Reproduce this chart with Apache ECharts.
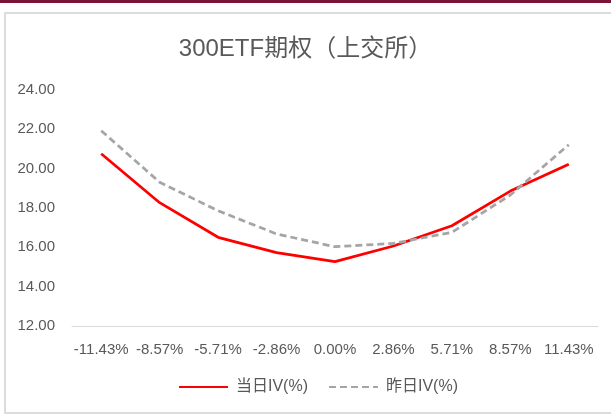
<!DOCTYPE html>
<html>
<head>
<meta charset="utf-8">
<script src="https://cdn.jsdelivr.net/npm/echarts@6/dist/echarts.min.js"></script>
<style>
html,body{margin:0;padding:0;background:#fff;}
#topbar{position:absolute;left:0;top:0;width:611px;height:3px;background:#7a1538;}
#box{position:absolute;left:4px;top:12px;width:615px;height:402px;border:2px solid #dcdcdc;box-sizing:border-box;}
#chart{position:absolute;left:0;top:0;width:611px;height:419px;}
</style>
</head>
<body>
<div id="topbar"></div>
<div id="box"></div>
<div id="chart"></div>
<script>
const categories = ['-11.43%','-8.57%','-5.71%','-2.86%','0.00%','2.86%','5.71%','8.57%','11.43%'];
const todayIV = [20.76, 18.27, 16.51, 15.73, 15.27, 16.07, 17.10, 18.86, 20.22];
const yesterdayIV = [21.93, 19.31, 17.86, 16.68, 16.03, 16.20, 16.76, 18.66, 21.22];
const seriesNames = ['当日IV(%)', '昨日IV(%)'];
const titleText = '300ETF期权（上交所）';

const chart = echarts.init(document.getElementById('chart'), null, {renderer:'canvas'});
const fontFam = '"Liberation Sans","Noto Sans CJK SC",sans-serif';
chart.setOption({
  animation: false,
  backgroundColor: 'transparent',
  title: {
    text: titleText,
    left: 'center',
    top: 32,
    textStyle: {fontSize: 24, fontWeight: 'normal', color: '#595959', fontFamily: fontFam}
  },
  grid: {left: 72, right: 13, top: 90, bottom: 93},
  legend: {
    bottom: 19,
    left: 173,
    itemWidth: 49,
    itemHeight: 14,
    itemGap: 20,
    itemStyle: {opacity: 0},
    textStyle: {fontSize: 16, color: '#595959', fontFamily: fontFam, padding: [0, 0, 0, 3]},
    data: seriesNames
  },
  xAxis: {
    type: 'category',
    data: categories,
    boundaryGap: true,
    axisLine: {show: true, lineStyle: {color: '#d9d9d9', width: 1}},
    axisTick: {show: false},
    axisLabel: {color: '#595959', fontSize: 15, margin: 16, fontFamily: fontFam, interval: 0}
  },
  yAxis: {
    type: 'value',
    min: 12, max: 24, interval: 2,
    axisLine: {show: false},
    axisTick: {show: false},
    splitLine: {show: false},
    axisLabel: {color: '#595959', fontSize: 15, margin: 17, fontFamily: fontFam,
      formatter: v => v.toFixed(2)}
  },
  series: [
    {name: seriesNames[0], type: 'line', data: todayIV, symbol: 'none',
     lineStyle: {color: '#ff0000', width: 2.75}, itemStyle: {color: '#ff0000'}},
    {name: seriesNames[1], type: 'line', data: yesterdayIV, symbol: 'none',
     lineStyle: {color: '#a5a5a5', width: 2.75, type: [7, 4]}, itemStyle: {color: '#a5a5a5'}}
  ]
});
</script>
</body>
</html>
